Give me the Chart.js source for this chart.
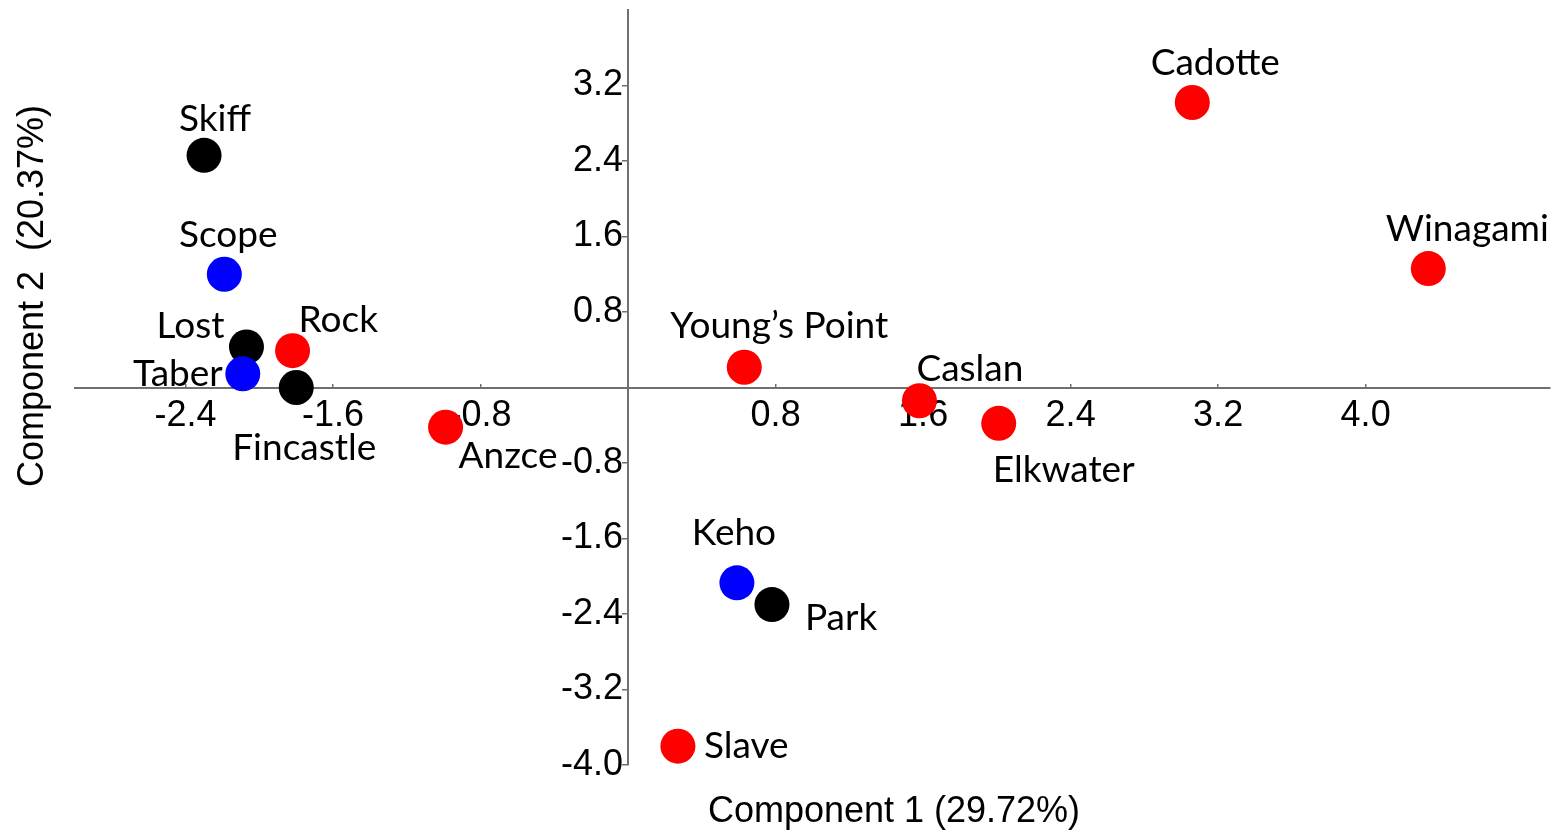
<!DOCTYPE html>
<html><head><meta charset="utf-8">
<script src="https://cdn.jsdelivr.net/npm/chart.js@4"></script>
<style>html,body{margin:0;padding:0;background:#fff}canvas{display:block}</style>
</head><body>
<canvas id="c" width="1562" height="834"></canvas>
<script>
const sites  = ['Skiff','Scope','Lost','Rock','Taber','Fincastle','Anzce','Young\u2019s Point','Caslan','Elkwater','Cadotte','Winagami','Keho','Park','Slave'];
const comp1  = [-2.30,-2.19,-2.07,-1.82,-2.09,-1.80,-0.99,0.63,1.58,2.01,3.06,4.34,0.59,0.78,0.27];
const comp2  = [2.46,1.20,0.43,0.39,0.145,0.00,-0.42,0.215,-0.14,-0.38,3.02,1.26,-2.07,-2.30,-3.80];
const groups = ['black','blue','black','red','blue','black','red','red','red','red','red','red','blue','black','red'];
const xTicks = [-2.4,-1.6,-0.8,0.8,1.6,2.4,3.2,4.0];
const yTicks = [3.2,2.4,1.6,0.8,-0.8,-1.6,-2.4,-3.2,-4.0];
const xTitle = 'Component 1 (29.72%)';
const yTitle = 'Component 2  (20.37%)';

const groupColor = {red:'#ff0000', black:'#000000', blue:'#0000ff'};
// label anchor: [align, dx, dy] relative to point centre (pixels)
const place = {
  'Skiff':['center',11,-36], 'Scope':['center',4,-39], 'Lost':['right',-22,-21],
  'Rock':['left',6,-31], 'Taber':['right',-20,0], 'Fincastle':['center',8,61],
  'Anzce':['left',13,29], 'Young\u2019s Point':['center',35,-41], 'Caslan':['left',-3,-32],
  'Elkwater':['left',-6,47], 'Cadotte':['center',23,-39], 'Winagami':['center',39,-40],
  'Keho':['center',-3,-50], 'Park':['left',33,13], 'Slave':['left',26,0]
};

const axisGray = '#707070';
const labelPlugin = {
  id:'pointLabels',
  afterLayout(chart){
    const ys = chart.scales.y;
    if (!ys._shifted) {
      const orig = ys.drawLabels;
      ys.drawLabels = function(area){
        const ctx = this.ctx; ctx.save(); ctx.translate(-5, 0);
        orig.call(this, area); ctx.restore();
      };
      ys._shifted = true;
    }
  },
  afterDatasetsDraw(chart){
    const ctx = chart.ctx, meta = chart.getDatasetMeta(0);
    ctx.save();
    ctx.fillStyle = '#000';
    ctx.font = '37px Lato';
    ctx.textBaseline = 'middle';
    meta.data.forEach((pt,i)=>{
      const p = place[sites[i]];
      ctx.textAlign = p[0];
      ctx.fillText(sites[i], pt.x + p[1], pt.y + p[2]);
    });
    ctx.font = '36px "Liberation Sans"';
    ctx.textAlign = 'center';
    ctx.fillText(xTitle, 894, 812);
    ctx.translate(33, 296);
    ctx.rotate(-Math.PI/2);
    ctx.fillText(yTitle, 0, 0);
    ctx.restore();
  }
};

const zeroPad = s => { s.paddingLeft = 0; s.paddingRight = 0; s.paddingTop = 0; s.paddingBottom = 0; };

new Chart(document.getElementById('c'), {
  type:'scatter',
  data:{ datasets:[{
    data: comp1.map((x,i)=>({x, y: comp2[i]})),
    backgroundColor: groups.map(g=>groupColor[g]),
    borderColor: groups.map(g=>groupColor[g]),
    borderWidth: 0,
    pointRadius: 17.5,
    pointHoverRadius: 17.5
  }]},
  options:{
    responsive:false, animation:false, devicePixelRatio:1,
    layout:{autoPadding:false, padding:{left:75, right:12, top:10, bottom:69}},
    plugins:{legend:{display:false}, tooltip:{enabled:false}},
    scales:{
      x:{
        type:'linear', min:-3, max:5, position:{y:0},
        afterBuildTicks: s => { s.ticks = xTicks.map(v=>({value:v})); },
        afterFit: zeroPad,
        grid:{drawOnChartArea:false, drawTicks:true, tickLength:-5, color:axisGray, lineWidth:1.5},
        border:{display:true, color:axisGray, width:2},
        ticks:{autoSkip:false, maxRotation:0, padding:12, color:'#000',
          font:{family:'"Liberation Sans"', size:36},
          callback: v => Number(v).toFixed(1)}
      },
      y:{
        type:'linear', min:-4, max:4, position:{x:0},
        afterBuildTicks: s => { s.ticks = yTicks.map(v=>({value:v})); },
        afterFit: zeroPad,
        grid:{drawOnChartArea:false, drawTicks:true, tickLength:5, color:axisGray, lineWidth:1.5},
        border:{display:true, color:axisGray, width:2},
        ticks:{autoSkip:false, padding:4, color:'#000',
          font:{family:'"Liberation Sans"', size:36},
          callback: v => Number(v).toFixed(1)}
      }
    }
  },
  plugins:[labelPlugin]
});
</script>
</body></html>
